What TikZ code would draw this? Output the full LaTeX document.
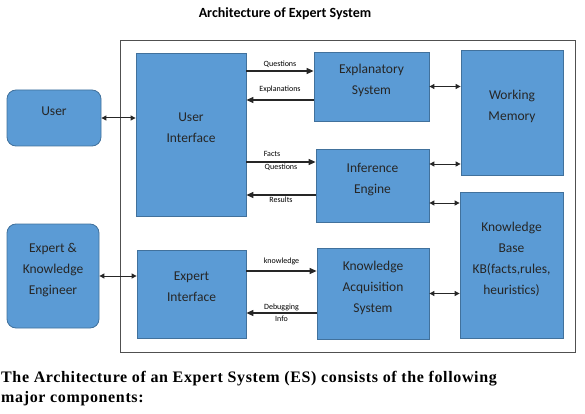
\documentclass[tikz,border=0pt]{standalone}
\usepackage{fontspec}
\setmainfont{Carlito}
\newfontfamily\captionfont[LetterSpace=4]{Liberation Serif}
\usetikzlibrary{arrows.meta}
\definecolor{boxfill}{HTML}{5B9BD5}
\definecolor{boxline}{HTML}{41719C}
\definecolor{framegray}{HTML}{505050}
% raises the text of a box a little above its centre
\newcommand{\lift}{\\[-7pt]\mbox{}}
\begin{document}
\begin{tikzpicture}[x=1pt, y=-1pt,
    block/.style={rectangle, draw=boxline, fill=boxfill, line width=0.8pt, align=center,
        text=black!85, font=\fontsize{13.5}{21}\selectfont},
    person/.style={block, rounded corners=9pt},
    lbl/.style={font=\fontsize{8}{9}\selectfont, inner sep=1pt},
    flow/.style={line width=1.2pt, draw=black!85, -{Triangle[length=7pt,width=6pt]}},
    both/.style={line width=1pt, draw=black!85, {Triangle[length=5pt,width=5pt]}-{Triangle[length=5pt,width=5pt]}}]

        \useasboundingbox (0,0) rectangle (585,414);

        % Title and frame
        \node[font=\fontsize{14}{16}\selectfont\bfseries](title) at (285,14){Architecture of Expert System};
        \draw[framegray, line width=1pt] (120,41) rectangle (575,352);

        % Vertices
        \node[person, minimum width=94pt, minimum height=56pt](user) at (54,118){User\lift};
        \node[person, minimum width=92pt, minimum height=104pt](eke) at (53,276){Expert \&\\Knowledge\\Engineer\lift};
        \node[block, minimum width=110pt, minimum height=163pt](ui) at (191,134.5){User\\Interface\lift};
        \node[block, minimum width=109pt, minimum height=88pt](ei) at (191.5,294){Expert\\Interface\lift};
        \node[block, minimum width=115pt, minimum height=69pt](expsys) at (371.5,86.5){Explanatory\\System\lift};
        \node[block, minimum width=113pt, minimum height=73pt](inf) at (372.5,185.5){Inference\\Engine\lift};
        \node[block, minimum width=112pt, minimum height=91pt](kas) at (373,293.5){Knowledge\\Acquisition\\System\lift};
        \node[block, minimum width=102pt, minimum height=125pt](wm) at (512,112.5){Working\\Memory\lift};
        \node[block, minimum width=103pt, minimum height=146pt](kb) at (511.5,265){Knowledge\\Base\\KB(facts,rules,\\heuristics)\lift};

        % Arrow ends
        \coordinate (qTo) at ([yshift=15.5pt]expsys.west);
        \coordinate (eFrom) at ([yshift=-13.5pt]expsys.west);
        \coordinate (fTo) at ([yshift=23.5pt]inf.west);
        \coordinate (rFrom) at ([yshift=-9.5pt]inf.west);
        \coordinate (infTop) at ([yshift=21.5pt]inf.east);
        \coordinate (infLow) at ([yshift=-17.5pt]inf.east);
        \coordinate (kTo) at ([yshift=22.5pt]kas.west);
        \coordinate (dFrom) at ([yshift=-19.5pt]kas.west);

        % Edges
        \draw[both](user.east) -- (ui.west |- user.east);
        \draw[both](eke.east) -- (ei.west |- eke.east);
        \draw[flow](ui.east |- qTo) -- node[lbl, above=2pt]{Questions} (qTo);
        \draw[flow](eFrom) -- node[lbl, above=6pt]{Explanations} (ui.east |- eFrom);
        \draw[flow](ui.east |- fTo) -- node[lbl, above=4pt, pos=0.37]{Facts} node[lbl, below=0pt]{Questions} (fTo);
        \draw[flow](rFrom) -- node[lbl, below=0pt]{Results} (ui.east |- rFrom);
        \draw[flow](ei.east |- kTo) -- node[lbl, above=5pt]{knowledge} (kTo);
        \draw[flow](dFrom) -- node[lbl, above=1pt]{Debugging} node[lbl, below=1pt]{Info} (ei.east |- dFrom);
        \draw[both](expsys.east) -- (wm.west |- expsys.east);
        \draw[both](infTop) -- (wm.west |- infTop);
        \draw[both](infLow) -- (kb.west |- infLow);
        \draw[both](kas.east) -- (kb.west |- kas.east);

        % Caption
        \node[anchor=north west, align=left, inner sep=0pt, font=\captionfont\bfseries\fontsize{16}{20}\selectfont](caption) at (1,371){The Architecture of an Expert System (ES) consists of the following\\major components:};

    \end{tikzpicture}
\end{document}
